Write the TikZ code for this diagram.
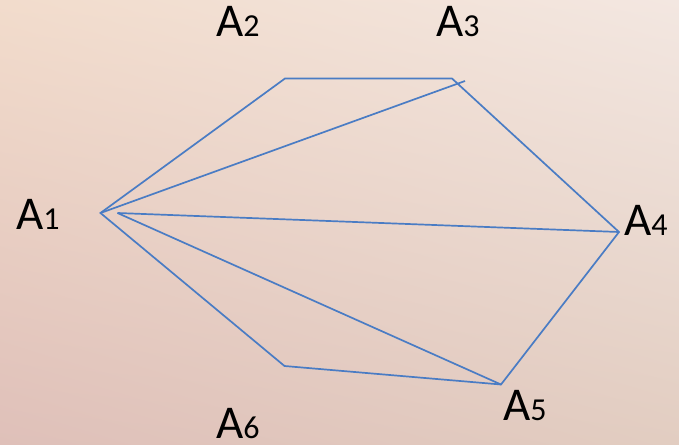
\documentclass[tikz,border=0pt]{standalone}
\usepackage{fontspec}
\setmainfont{Carlito}
\usepackage{xcolor}
\usepackage{tikz}
\usetikzlibrary{positioning,calc,shadings}
\definecolor{edgeBlue}{HTML}{4A7CC4}
\definecolor{bgTL}{HTML}{F2DCCC}
\definecolor{bgTR}{HTML}{F3E7E1}
\definecolor{bgBL}{HTML}{DFC0B9}
\definecolor{bgBR}{HTML}{E2CDC1}
\providecommand{\Avert}[1]{A{\fontsize{32pt}{32pt}\selectfont #1}}

\begin{document}
\begin{tikzpicture}[
    x=1pt,y=-1pt,
    every node/.style={font=\fontsize{47pt}{47pt}\selectfont},
    vlab/.style={anchor=base west,inner sep=0pt,text=black},
    edge/.style={draw=edgeBlue,line width=1.7pt,line join=miter}
  ]
  %% Background
  \useasboundingbox (0,0) rectangle (679,444);
  \shade[upper left=bgTL,upper right=bgTR,lower left=bgBL,lower right=bgBR]
        (0,0) rectangle (679,444);
  %% Vertices of the hexagon
  \coordinate (A1) at (100.5,213);
  \coordinate (A2) at (285,78.5);
  \coordinate (A3) at (452,78.5);
  \coordinate (A4) at (619,232);
  \coordinate (A5) at (501,384.5);
  \coordinate (A6) at (284.5,366);
  %% Loose ends of the diagonals
  \coordinate (D1) at (117.5,213);
  \coordinate (D3) at (465,81);
  %% Labels
  \node[vlab] (L1) at (16,229)  {\Avert{1}};
  \node[vlab] (L2) at (216,37)  {\Avert{2}};
  \node[vlab] (L3) at (436,37)  {\Avert{3}};
  \node[vlab] (L4) at (624,235) {\Avert{4}};
  \node[vlab] (L5) at (503,420) {\Avert{5}};
  \node[vlab] (L6) at (216,438) {\Avert{6}};
  %% Hexagon and diagonals
  \draw[edge] (A1) -- (A2) -- (A3) -- (A4) -- (A5) -- (A6) -- cycle;
  \draw[edge] (A1) -- (D3);
  \draw[edge] (D1) -- (A4);
  \draw[edge] (D1) -- (A5);
\end{tikzpicture}
\end{document}
